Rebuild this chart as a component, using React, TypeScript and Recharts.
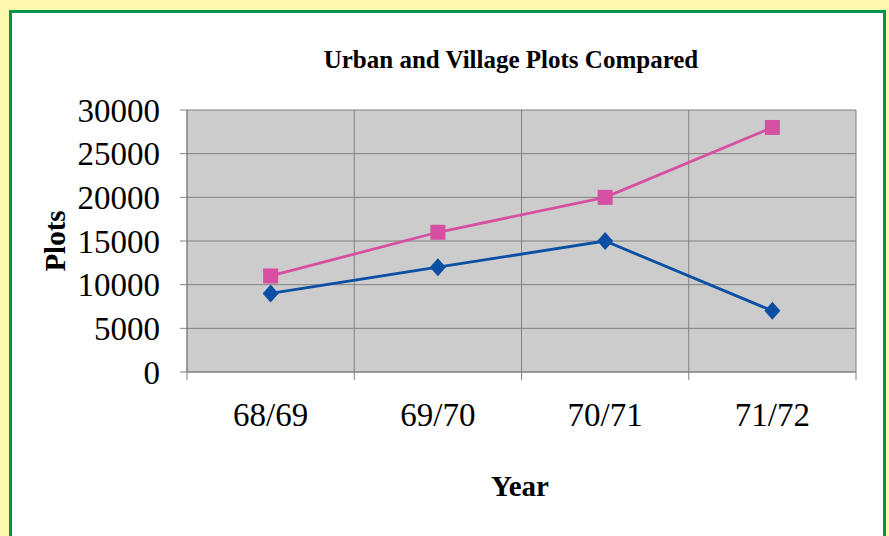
import React from "react";
import { CartesianGrid, Line, LineChart, XAxis, YAxis } from "recharts";

const years = ["68/69", "69/70", "70/71", "71/72"];
const urbanPlots = [11000, 16000, 20000, 28000];
const villagePlots = [9000, 12000, 15000, 7000];
const yTicks = [0, 5000, 10000, 15000, 20000, 25000, 30000];
const bandEdges = [0, 1, 2, 3, 4];

const SERIF = "'Liberation Serif', 'Times New Roman', serif";
const PINK = "#D64FA3";
const BLUE = "#0A4FA3";

const data = years.map((year, i) => ({
  year,
  urban: urbanPlots[i],
  village: villagePlots[i],
}));

function SquareDot(props: any) {
  const { cx, cy } = props;
  if (cx == null || cy == null) return null;
  return <rect x={cx - 7.5} y={cy - 7.5} width={15} height={15} fill={PINK} />;
}

function DiamondDot(props: any) {
  const { cx, cy } = props;
  if (cx == null || cy == null) return null;
  return (
    <polygon
      points={`${cx},${cy - 9} ${cx + 8},${cy} ${cx},${cy + 9} ${cx - 8},${cy}`}
      fill={BLUE}
    />
  );
}

// category label plus the tick marks at the band edges
function YearTick(props: any) {
  const { x, y, payload, index, visibleTicksCount } = props;
  const half = payload?.offset ?? 0;
  const last = index === (visibleTicksCount ?? years.length) - 1;
  const top = y - 31;
  return (
    <g>
      <line x1={x - half} x2={x - half} y1={top} y2={top + 8} stroke="#808080" />
      {last && (
        <line x1={x + half} x2={x + half} y1={top} y2={top + 8} stroke="#808080" />
      )}
      <text
        x={x}
        y={y}
        dy="0.71em"
        textAnchor="middle"
        fill="#000"
        fontSize={33}
        fontFamily={SERIF}
      >
        {payload.value}
      </text>
    </g>
  );
}

export default function App() {
  return (
    <div
      style={{
        position: "absolute",
        left: 0,
        top: 0,
        width: 889,
        height: 536,
        background: "#FFF9B0",
        overflow: "hidden",
        fontFamily: SERIF,
      }}
    >
      <div
        style={{
          position: "absolute",
          left: 9,
          top: 10,
          width: 871,
          height: 560,
          border: "3.5px solid #00934A",
          background: "#fff",
        }}
      />
      <LineChart
        width={889}
        height={536}
        data={data}
        margin={{ top: 110, right: 33, bottom: 104, left: 107 }}
        style={{ position: "absolute", left: 0, top: 0 }}
      >
        <CartesianGrid
          fill="#CCCCCC"
          stroke="#808080"
          strokeWidth={1}
          verticalCoordinatesGenerator={({ offset }: any) =>
            bandEdges.map((e) => offset.left + (e * offset.width) / (bandEdges.length - 1))
          }
        />
        <XAxis
          dataKey="year"
          scale="band"
          height={60}
          axisLine={{ stroke: "#808080" }}
          tickLine={false}
          tickMargin={25}
          interval={0}
          tick={<YearTick />}
        />
        <YAxis
          domain={[0, 30000]}
          ticks={yTicks}
          interval={0}
          width={80}
          tickSize={7}
          tickMargin={20}
          stroke="#808080"
          tick={{ fill: "#000", fontSize: 33, fontFamily: SERIF }}
        />
        <Line
          dataKey="village"
          stroke={BLUE}
          strokeWidth={2.8}
          dot={<DiamondDot />}
          activeDot={false}
          isAnimationActive={false}
        />
        <Line
          dataKey="urban"
          stroke={PINK}
          strokeWidth={2.8}
          dot={<SquareDot />}
          activeDot={false}
          isAnimationActive={false}
        />
      </LineChart>
      <div
        style={{
          position: "absolute",
          left: 311,
          width: 400,
          top: 46,
          textAlign: "center",
          fontWeight: "bold",
          fontSize: 25,
        }}
      >
        Urban and Village Plots Compared
      </div>
      <div
        style={{
          position: "absolute",
          left: 420,
          width: 200,
          top: 470,
          textAlign: "center",
          fontWeight: "bold",
          fontSize: 29,
        }}
      >
        Year
      </div>
      <div
        style={{
          position: "absolute",
          left: 55,
          top: 241,
          transform: "translate(-50%, -50%) rotate(-90deg)",
          fontWeight: "bold",
          fontSize: 29,
          whiteSpace: "nowrap",
        }}
      >
        Plots
      </div>
    </div>
  );
}
